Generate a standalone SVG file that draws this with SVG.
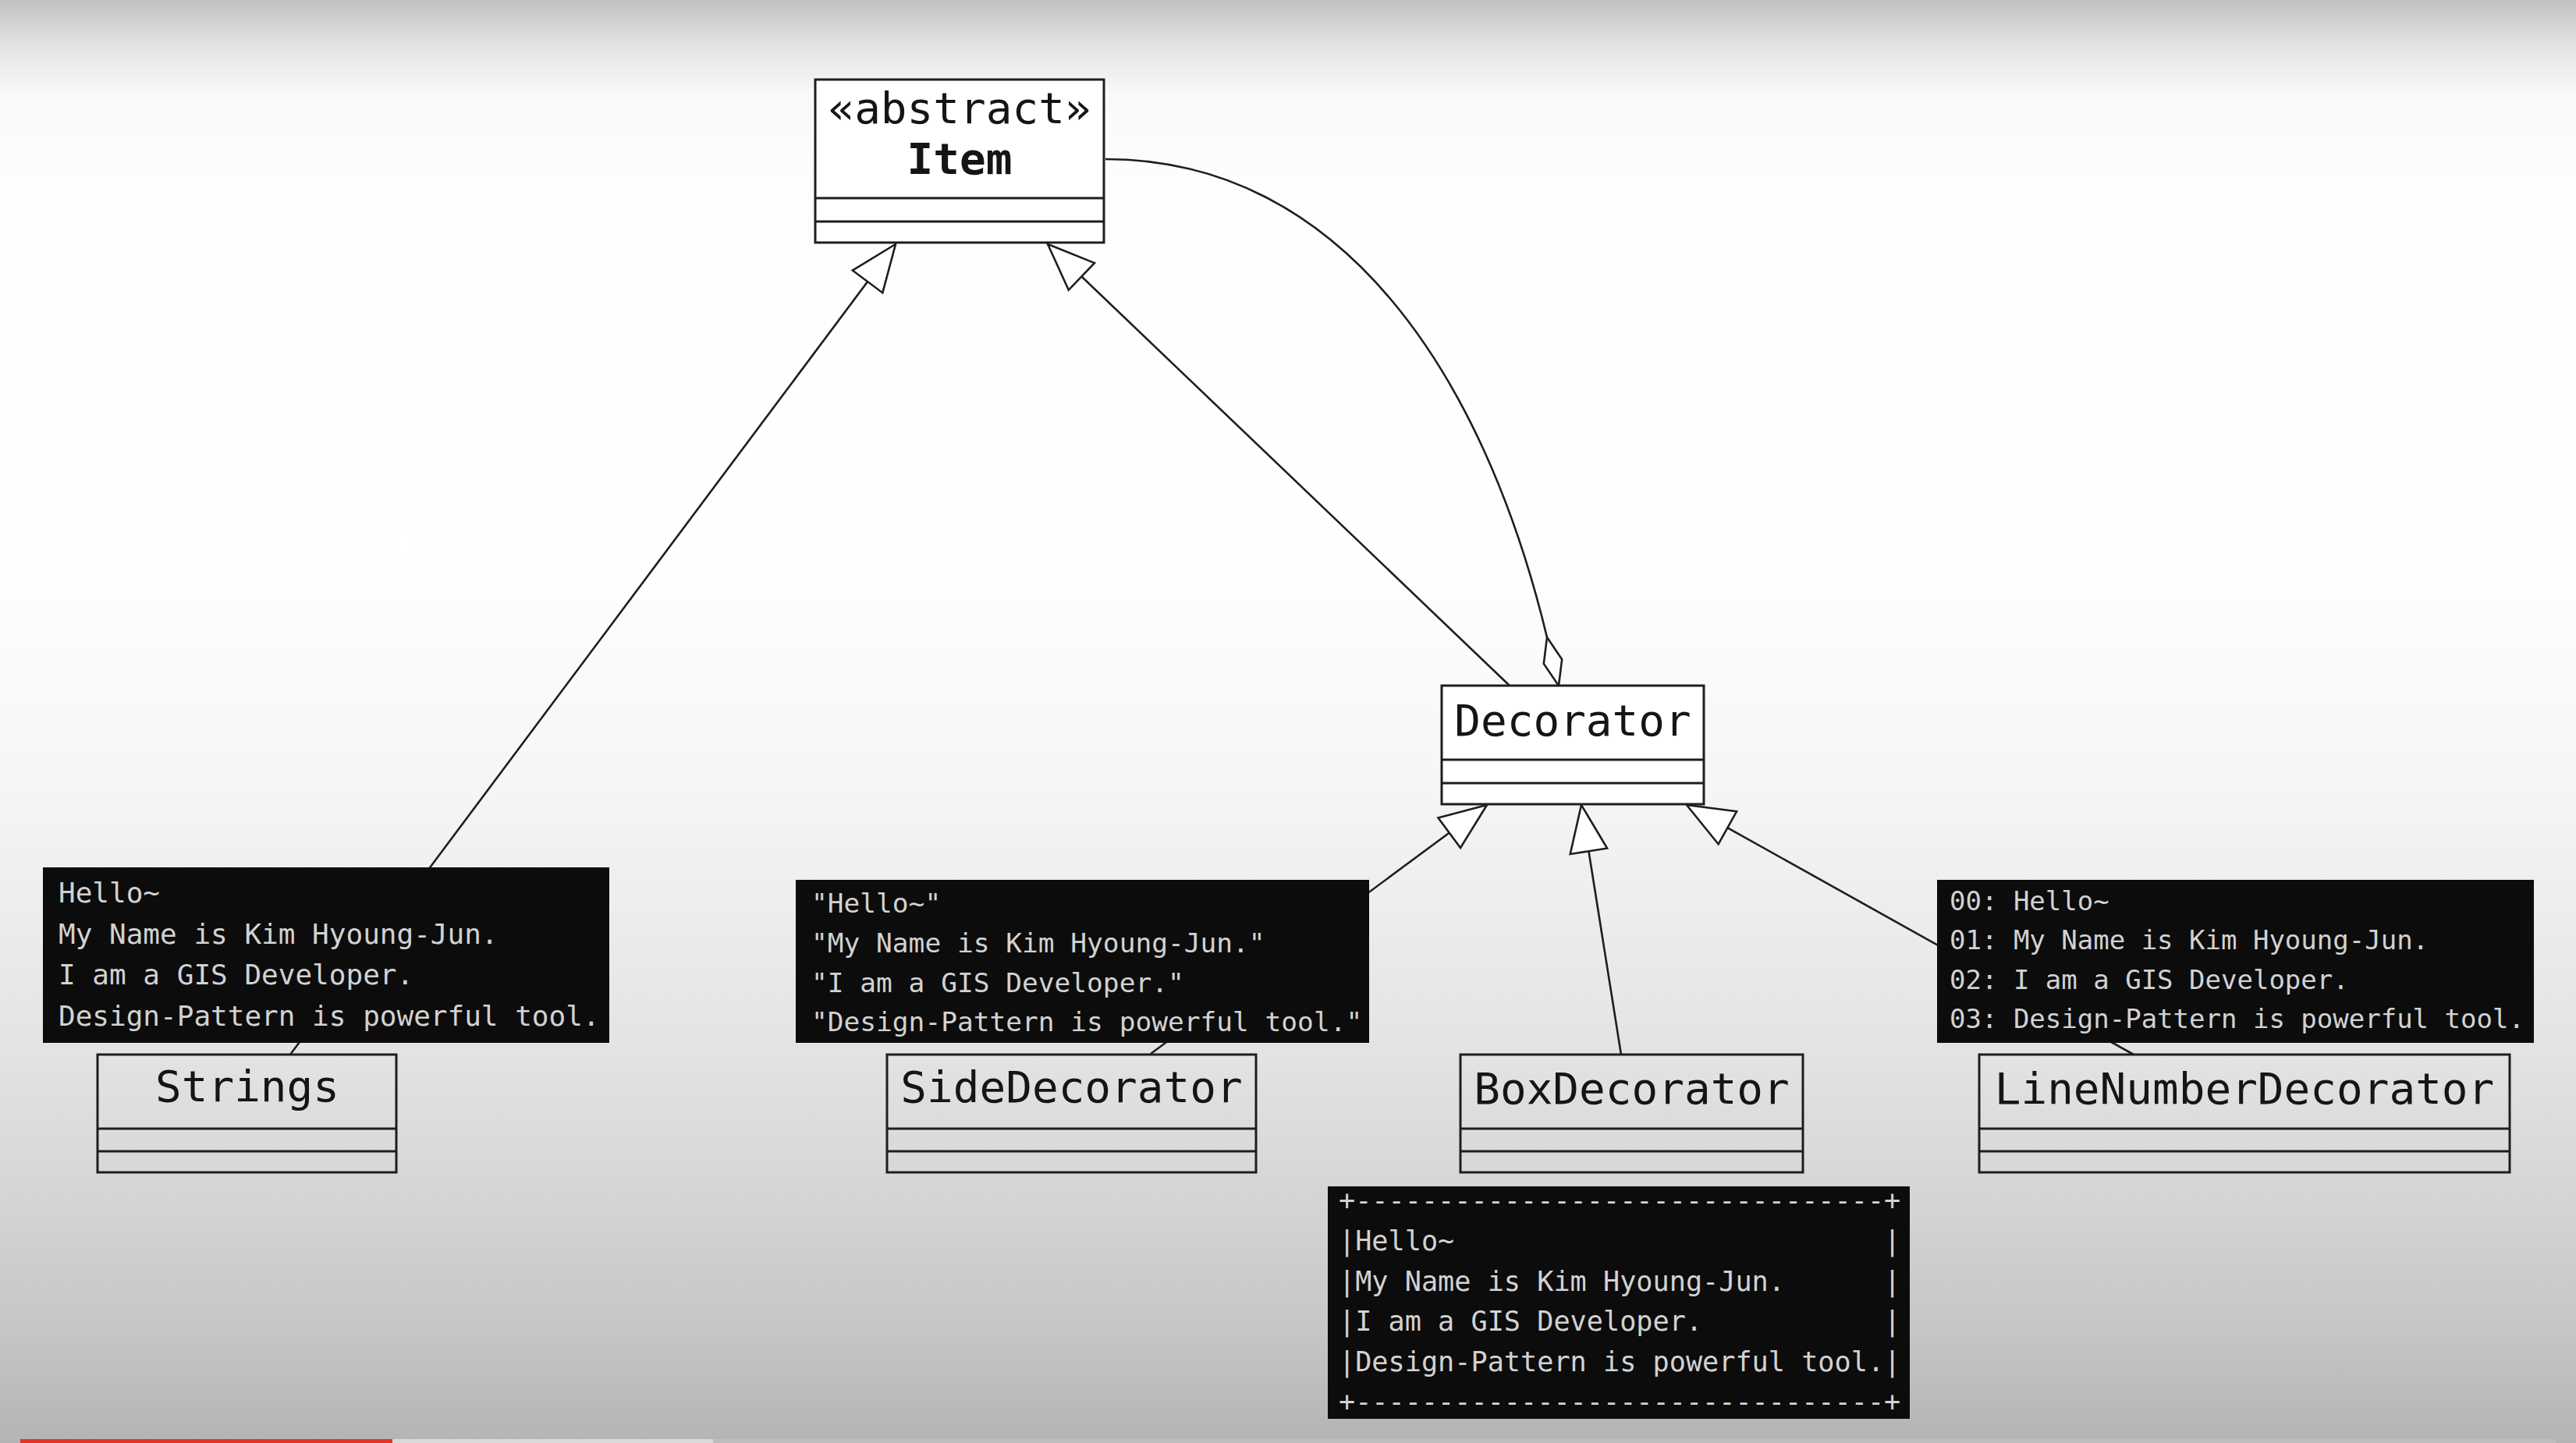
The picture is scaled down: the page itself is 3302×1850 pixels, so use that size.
<svg xmlns="http://www.w3.org/2000/svg" width="3302" height="1850" viewBox="0 0 3302 1850">
<defs>
<linearGradient id="bg" x1="0" y1="0" x2="0" y2="1">
<stop offset="0" stop-color="#c2c2c2"/>
<stop offset="0.03" stop-color="#e2e2e2"/>
<stop offset="0.065" stop-color="#f9f9f9"/>
<stop offset="0.12" stop-color="#fdfdfd"/>
<stop offset="0.38" stop-color="#ffffff"/>
<stop offset="0.54" stop-color="#f6f6f6"/>
<stop offset="0.73" stop-color="#e3e3e3"/>
<stop offset="0.81" stop-color="#d8d8d8"/>
<stop offset="0.92" stop-color="#c6c6c6"/>
<stop offset="1" stop-color="#b4b4b4"/>
</linearGradient>
<marker id="tri" markerUnits="userSpaceOnUse" viewBox="-66 -28 70 56" markerWidth="70" markerHeight="56" refX="0" refY="0" orient="auto">
<path d="M0,0 L-60,-24 L-60,24 Z" fill="#ffffff" stroke="#1e1e1e" stroke-width="2.6"/>
</marker>
<marker id="dia" markerUnits="userSpaceOnUse" viewBox="-4 -16 72 32" markerWidth="72" markerHeight="32" refX="0" refY="0" orient="auto">
<path d="M0,0 L32,-12 L64,0 L32,12 Z" fill="#ffffff" stroke="#1e1e1e" stroke-width="2.6"/>
</marker>
</defs>
<style>
.cls{fill:none;stroke:#1e1e1e;stroke-width:3}
.div{stroke:#1e1e1e;stroke-width:3}
.name{font-family:"DejaVu Sans Mono","Liberation Mono",monospace;font-size:56px;fill:#151515;text-anchor:middle}
.bold{font-weight:bold}
.note{fill:#0c0c0c}
.nt{font-family:"DejaVu Sans Mono","Liberation Mono",monospace;fill:#d2d2d2;white-space:pre}
.conn{fill:none;stroke:#1e1e1e;stroke-width:2.6}
</style>
<rect x="0" y="0" width="3302" height="1850" fill="url(#bg)"/>

<g id="connectors">
<path class="conn" d="M372,1352 L1148,313" marker-end="url(#tri)"/>
<path class="conn" d="M1935,879 L1343,313" marker-end="url(#tri)"/>
<path class="conn" d="M1475,1351 L1906,1032" marker-end="url(#tri)"/>
<path class="conn" d="M2078,1352 L2027,1032" marker-end="url(#tri)"/>
<path class="conn" d="M2735,1352 L2162,1032" marker-end="url(#tri)"/>
<path class="conn" d="M1417,204 C1718,204 1901,477 1983,817" marker-end="url(#dia)"/>
</g>

<g id="item">
<rect x="1045" y="102" width="370" height="209" fill="#ffffff" stroke="#1e1e1e" stroke-width="3"/>
<line class="div" x1="1045" y1="254" x2="1415" y2="254"/>
<line class="div" x1="1045" y1="284" x2="1415" y2="284"/>
<text class="name" x="1230" y="158">«abstract»</text>
<text class="name bold" x="1230" y="223">Item</text>
</g>

<g id="decorator">
<rect x="1848" y="879" width="336" height="152" fill="#ffffff" stroke="#1e1e1e" stroke-width="3"/>
<line class="div" x1="1848" y1="974" x2="2184" y2="974"/>
<line class="div" x1="1848" y1="1004" x2="2184" y2="1004"/>
<text class="name" x="2016" y="943">Decorator</text>
</g>

<g id="strings">
<rect class="cls" x="125" y="1352" width="383" height="151"/>
<line class="div" x1="125" y1="1447" x2="508" y2="1447"/>
<line class="div" x1="125" y1="1476" x2="508" y2="1476"/>
<text class="name" x="317" y="1412">Strings</text>
</g>

<g id="sidedecorator">
<rect class="cls" x="1137" y="1352" width="473" height="151"/>
<line class="div" x1="1137" y1="1447" x2="1610" y2="1447"/>
<line class="div" x1="1137" y1="1476" x2="1610" y2="1476"/>
<text class="name" x="1373.5" y="1413">SideDecorator</text>
</g>

<g id="boxdecorator">
<rect class="cls" x="1872" y="1352" width="439" height="151"/>
<line class="div" x1="1872" y1="1447" x2="2311" y2="1447"/>
<line class="div" x1="1872" y1="1476" x2="2311" y2="1476"/>
<text class="name" x="2091.5" y="1415">BoxDecorator</text>
</g>

<g id="linenumberdecorator">
<rect class="cls" x="2537" y="1352" width="680" height="151"/>
<line class="div" x1="2537" y1="1447" x2="3217" y2="1447"/>
<line class="div" x1="2537" y1="1476" x2="3217" y2="1476"/>
<text class="name" x="2877" y="1415">LineNumberDecorator</text>
</g>

<g id="note-strings">
<rect class="note" x="55" y="1112" width="726" height="225"/>
<text class="nt" font-size="36" x="75" y="1157">Hello~</text>
<text class="nt" font-size="36" x="75" y="1209.5">My Name is Kim Hyoung-Jun.</text>
<text class="nt" font-size="36" x="75" y="1262">I am a GIS Developer.</text>
<text class="nt" font-size="36" x="75" y="1314.5">Design-Pattern is powerful tool.</text>
</g>

<g id="note-side">
<rect class="note" x="1020" y="1128" width="735" height="209"/>
<text class="nt" font-size="34.5" x="1040" y="1170">"Hello~"</text>
<text class="nt" font-size="34.5" x="1040" y="1221">"My Name is Kim Hyoung-Jun."</text>
<text class="nt" font-size="34.5" x="1040" y="1272">"I am a GIS Developer."</text>
<text class="nt" font-size="34.5" x="1040" y="1322">"Design-Pattern is powerful tool."</text>
</g>

<g id="note-linenumber">
<rect class="note" x="2483" y="1128" width="765" height="209"/>
<text class="nt" font-size="34" x="2499" y="1167">00: Hello~</text>
<text class="nt" font-size="34" x="2499" y="1217">01: My Name is Kim Hyoung-Jun.</text>
<text class="nt" font-size="34" x="2499" y="1268">02: I am a GIS Developer.</text>
<text class="nt" font-size="34" x="2499" y="1318">03: Design-Pattern is powerful tool.</text>
</g>

<g id="note-box">
<rect class="note" x="1702" y="1521" width="746" height="298"/>
<text class="nt" font-size="35.2" x="1716" y="1551" fill="#c4c4c4">+--------------------------------+</text>
<text class="nt" font-size="35.2" x="1716" y="1603" fill="#c4c4c4">|Hello~                          |</text>
<text class="nt" font-size="35.2" x="1716" y="1654.5" fill="#c4c4c4">|My Name is Kim Hyoung-Jun.      |</text>
<text class="nt" font-size="35.2" x="1716" y="1706" fill="#c4c4c4">|I am a GIS Developer.           |</text>
<text class="nt" font-size="35.2" x="1716" y="1757.5" fill="#c4c4c4">|Design-Pattern is powerful tool.|</text>
<text class="nt" font-size="35.2" x="1716" y="1809" fill="#c4c4c4">+--------------------------------+</text>
</g>

<g id="progress-bar">
<rect x="26" y="1845" width="3250" height="5" fill="#bdbdbd"/>
<rect x="503" y="1845" width="411" height="5" fill="#d9d9d9"/>
<rect x="26" y="1845" width="477" height="5" fill="#e53426"/>
</g>
</svg>
